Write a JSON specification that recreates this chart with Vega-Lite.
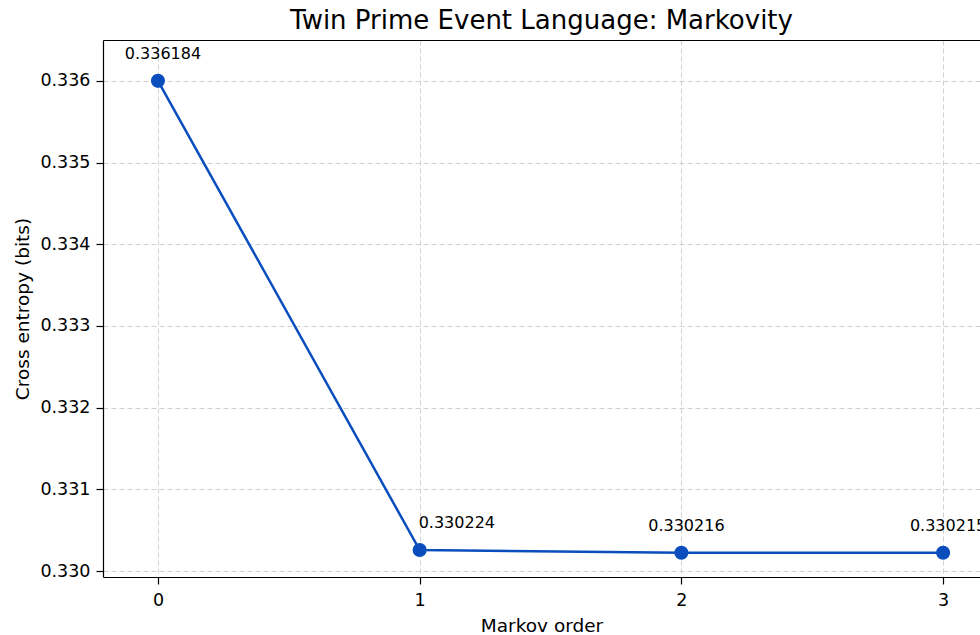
{
  "$schema": "https://vega.github.io/schema/vega-lite/v6.json",
  "autosize": "none",
  "padding": {"left": 103, "top": 40, "right": 0, "bottom": 58},
  "width": 877,
  "height": 537,
  "background": "white",
  "title": {
    "text": "Twin Prime Event Language: Markovity",
    "font": "DejaVu Sans",
    "fontSize": 26,
    "fontWeight": "normal",
    "color": "black",
    "anchor": "middle",
    "offset": 6
  },
  "config": {
    "view": {"stroke": null},
    "font": "DejaVu Sans",
    "axis": {
      "labelFont": "DejaVu Sans",
      "titleFont": "DejaVu Sans",
      "labelFontSize": 17.5,
      "titleFontSize": 18.5,
      "titleFontWeight": "normal",
      "labelColor": "black",
      "titleColor": "black",
      "domainColor": "black",
      "domainWidth": 1.2,
      "tickColor": "black",
      "tickWidth": 1.2,
      "tickSize": 7,
      "gridColor": "#d0d0d0",
      "gridDash": [5, 3],
      "gridWidth": 1
    }
  },
  "data": {
    "values": [
      {"order": 0, "entropy": 0.336, "label": "0.336184"},
      {"order": 1, "entropy": 0.330257, "label": "0.330224"},
      {"order": 2, "entropy": 0.330224, "label": "0.330216"},
      {"order": 3, "entropy": 0.330224, "label": "0.330215"}
    ]
  },
  "layer": [
    {
      "encoding": {
        "x": {
          "field": "order",
          "type": "quantitative",
          "scale": {"domain": [-0.21, 3.141], "nice": false, "zero": false},
          "axis": {
            "values": [0, 1, 2, 3],
            "format": "d",
            "title": "Markov order",
            "grid": true,
            "labelPadding": 7,
            "titlePadding": 8,
            "labelFlush": false
          }
        },
        "y": {
          "field": "entropy",
          "type": "quantitative",
          "scale": {"domain": [0.329927, 0.3365], "nice": false, "zero": false},
          "axis": {
            "values": [0.330, 0.331, 0.332, 0.333, 0.334, 0.335, 0.336],
            "format": ".3f",
            "title": "Cross entropy (bits)",
            "grid": true,
            "labelPadding": 6,
            "titlePadding": 7,
            "labelFlush": false
          }
        }
      },
      "layer": [
        {"mark": {"type": "line", "color": "#0a4ebd", "strokeWidth": 2.5}},
        {"mark": {"type": "point", "filled": true, "color": "#0a4ebd", "opacity": 1, "size": 200}},
        {
          "transform": [{"filter": "datum.order != 1"}],
          "mark": {"type": "text", "fontSize": 16, "font": "DejaVu Sans", "color": "black", "align": "center", "baseline": "middle", "dx": 5, "dy": -27},
          "encoding": {"text": {"field": "label"}}
        },
        {
          "transform": [{"filter": "datum.order == 1"}],
          "mark": {"type": "text", "fontSize": 16, "font": "DejaVu Sans", "color": "black", "align": "left", "baseline": "middle", "dx": -1, "dy": -27},
          "encoding": {"text": {"field": "label"}}
        }
      ]
    },
    {
      "mark": {"type": "point", "opacity": 0},
      "encoding": {
        "x": {
          "field": "order",
          "type": "quantitative",
          "scale": {"domain": [-0.21, 3.141], "nice": false, "zero": false},
          "axis": {"orient": "top", "labels": false, "ticks": false, "title": null, "grid": false, "domain": true}
        }
      }
    }
  ],
  "resolve": {"axis": {"x": "independent"}}
}
